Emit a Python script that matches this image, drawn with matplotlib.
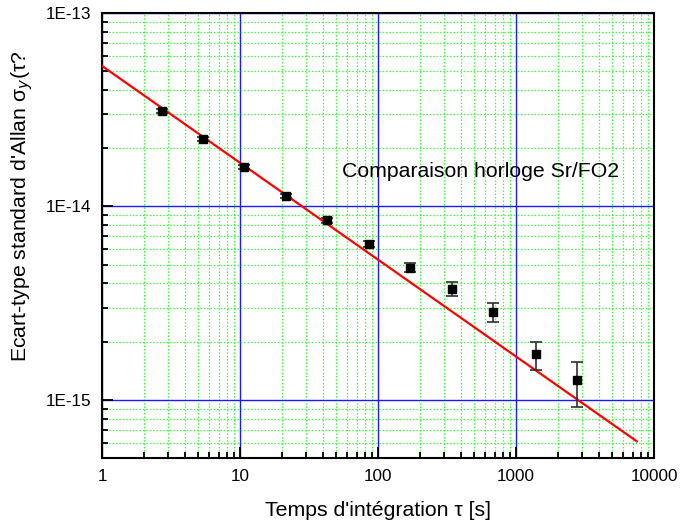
# Allan deviation plot, Sr/FO2 comparison
import matplotlib.pyplot as plt
import numpy as np
from matplotlib.ticker import LogLocator, FuncFormatter, NullFormatter

plt.rcParams['font.family'] = ['Liberation Sans', 'DejaVu Sans']

# data
tau = [2.7, 5.4, 10.6, 21.5, 42.7, 86, 171, 344, 681, 1396, 2767]
sigma = [3.12e-14, 2.23e-14, 1.60e-14, 1.13e-14, 8.5e-15, 6.4e-15,
         4.81e-15, 3.75e-15, 2.85e-15, 1.73e-15, 1.27e-15]
err_hi = [3.20e-14, 2.28e-14, 1.64e-14, 1.16e-14, 8.75e-15, 6.64e-15,
          5.1e-15, 4.07e-15, 3.17e-15, 2.0e-15, 1.57e-15]
err_lo = [3.04e-14, 2.18e-14, 1.56e-14, 1.10e-14, 8.25e-15, 6.18e-15,
          4.59e-15, 3.44e-15, 2.53e-15, 1.43e-15, 0.92e-15]

fit_tau = [1, 7500]
fit_sigma = [5.33e-14, 6.1e-16]

fig = plt.figure(figsize=(6.81, 5.24), dpi=100)
ax = fig.add_axes([0.1498, 0.126, 0.8106, 0.849])

ax.set_xscale('log')
ax.set_yscale('log')
ax.set_xlim(1, 10000)
ax.set_ylim(5e-16, 1e-13)

ax.grid(True, which='minor', color='#33ff33', linestyle=(0, (1.2, 1.5)), linewidth=0.9)
ax.grid(True, which='major', color='#1a1aff', linestyle='-', linewidth=1.0)
ax.set_axisbelow(True)

ax.plot(fit_tau, fit_sigma, color='#ff0000', linewidth=1.6, zorder=3)

yerr = [np.array(sigma) - np.array(err_lo), np.array(err_hi) - np.array(sigma)]
ax.errorbar(tau, sigma, yerr=yerr, fmt='s', color='black', markersize=5.5,
            ecolor='#303030', elinewidth=1.2, capsize=4, capthick=1.2, zorder=4)

ax.text(55, 1.51e-14, "Comparaison horloge Sr/FO2", fontsize=15.3, va='center', ha='left')

ax.xaxis.set_major_locator(LogLocator(base=10, numticks=10))
ax.xaxis.set_minor_locator(LogLocator(base=10, subs=np.arange(2, 10), numticks=20))
ax.yaxis.set_major_locator(LogLocator(base=10, numticks=10))
ax.yaxis.set_minor_locator(LogLocator(base=10, subs=np.arange(2, 10), numticks=20))
ax.xaxis.set_major_formatter(FuncFormatter(lambda v, p: "%d" % round(v)))
ax.yaxis.set_major_formatter(FuncFormatter(lambda v, p: "1E%d" % round(np.log10(v))))
ax.xaxis.set_minor_formatter(NullFormatter())
ax.yaxis.set_minor_formatter(NullFormatter())

ax.tick_params(which='both', direction='in', top=False, right=False, labelsize=12.3, width=1.3)
ax.tick_params(which='major', length=8, pad=8)
ax.tick_params(which='minor', length=4)
for s in ax.spines.values():
    s.set_linewidth(1.5)

ax.set_xlabel("Temps d'intégration τ [s]", fontsize=15.3, labelpad=12)
ax.set_ylabel("Ecart-type standard d'Allan σ$_{y}$(τ?", fontsize=15.3)
ax.yaxis.set_label_coords(-0.122, 0.565)

fig.savefig("out.png", dpi=100)
